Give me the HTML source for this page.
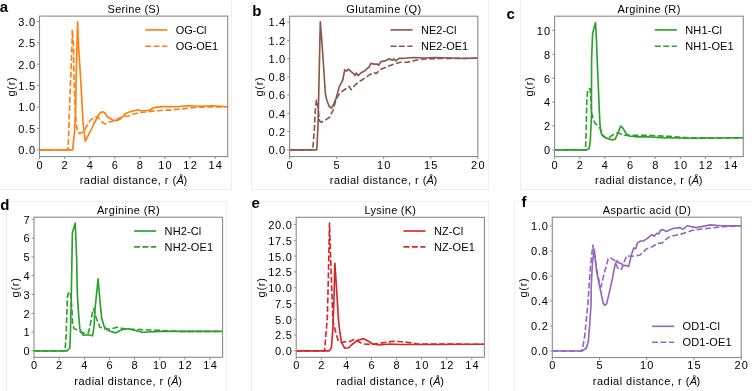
<!DOCTYPE html>
<html><head><meta charset="utf-8"><style>
html,body{margin:0;padding:0;background:#fff;width:752px;height:391px;overflow:hidden}
svg{display:block;filter:blur(0.4px)}
text{font-family:"Liberation Sans",sans-serif;fill:#000}
</style></head><body>
<svg width="752" height="391" viewBox="0 0 752 391">
<rect width="752" height="391" fill="#fff"/>
<g stroke="#efefef" stroke-width="1" fill="none">
<path d="M231.5,0 V189.5 H0"/>
<path d="M251.5,0 V189.5 H488.5 V0"/>
<path d="M520.5,0 V189.5 H752"/>
<path d="M6.5,391 V201.5 H226.5 V391"/>
<path d="M251.5,391 V201.5 H488.5 V391"/>
<path d="M514.5,391 V201.5 H752"/>
</g>
<clipPath id="ca"><rect x="39.5" y="16.1" width="188.2" height="140.5"/></clipPath>
<path d="M39.50,149.80 L68.00,149.80 L68.50,138.00 L69.30,115.00 L70.80,75.00 L72.00,45.00 L72.30,29.60 L73.50,45.00 L73.90,75.00 L75.00,105.00 L76.20,123.30 L77.30,130.30 L79.30,133.60 L82.00,132.50 L85.00,129.50 L88.10,123.30 L90.40,120.30 L93.00,118.00 L96.30,116.60 L99.90,119.20 L102.50,122.50 L105.40,124.10 L109.10,122.20 L113.80,120.70 L122.50,116.50 L128.80,116.00 L132.40,114.20 L136.90,113.30 L140.40,112.50 L145.80,112.00 L152.10,111.10 L158.30,110.70 L165.00,110.10 L170.20,110.10 L178.00,109.30 L186.60,108.40 L193.50,107.50 L203.90,107.10 L227.70,106.70" fill="none" stroke="#ff7f0e" stroke-width="1.65" stroke-linejoin="round" stroke-dasharray="5.9 2.5" clip-path="url(#ca)"/>
<path d="M39.50,149.80 L72.70,149.80 L74.70,130.00 L75.80,105.00 L76.20,75.00 L77.00,45.00 L77.60,21.90 L78.50,45.00 L80.40,75.00 L82.30,108.00 L83.10,123.30 L84.60,136.00 L85.20,141.20 L88.10,135.70 L92.00,128.00 L94.00,123.50 L97.00,118.00 L99.50,113.50 L102.20,111.80 L104.50,112.50 L107.10,116.50 L109.10,117.80 L112.70,120.10 L117.20,120.50 L120.70,118.70 L125.20,113.80 L130.60,111.60 L134.20,110.70 L137.80,109.80 L141.30,110.70 L145.80,110.70 L149.40,110.20 L153.00,108.00 L157.40,107.10 L163.70,106.60 L176.20,106.70 L188.30,105.80 L199.60,106.20 L211.70,105.80 L227.70,106.70" fill="none" stroke="#ff7f0e" stroke-width="1.65" stroke-linejoin="round" clip-path="url(#ca)"/>
<rect x="39.5" y="16.1" width="188.2" height="140.5" fill="none" stroke="#8a8a8a" stroke-width="1.1"/>
<path d="M39.50,156.60 V159.10 M64.59,156.60 V159.10 M89.69,156.60 V159.10 M114.78,156.60 V159.10 M139.87,156.60 V159.10 M164.97,156.60 V159.10 M190.06,156.60 V159.10 M215.15,156.60 V159.10 M39.50,149.80 H37.00 M39.50,128.40 H37.00 M39.50,107.00 H37.00 M39.50,85.60 H37.00 M39.50,64.20 H37.00 M39.50,42.80 H37.00 M39.50,21.40 H37.00" stroke="#8a8a8a" stroke-width="0.9" fill="none"/>
<text x="39.5" y="168.5" text-anchor="middle" font-size="11.0" textLength="6.72" lengthAdjust="spacing">0</text>
<text x="64.59" y="168.5" text-anchor="middle" font-size="11.0" textLength="6.72" lengthAdjust="spacing">2</text>
<text x="89.69" y="168.5" text-anchor="middle" font-size="11.0" textLength="6.72" lengthAdjust="spacing">4</text>
<text x="114.78" y="168.5" text-anchor="middle" font-size="11.0" textLength="6.72" lengthAdjust="spacing">6</text>
<text x="139.87" y="168.5" text-anchor="middle" font-size="11.0" textLength="6.72" lengthAdjust="spacing">8</text>
<text x="164.97" y="168.5" text-anchor="middle" font-size="11.0" textLength="13.45" lengthAdjust="spacing">10</text>
<text x="190.06" y="168.5" text-anchor="middle" font-size="11.0" textLength="13.45" lengthAdjust="spacing">12</text>
<text x="215.15" y="168.5" text-anchor="middle" font-size="11.0" textLength="13.45" lengthAdjust="spacing">14</text>
<text x="35.1" y="154.15" text-anchor="end" font-size="11.0" textLength="16.81" lengthAdjust="spacing">0.0</text>
<text x="35.1" y="132.75" text-anchor="end" font-size="11.0" textLength="16.81" lengthAdjust="spacing">0.5</text>
<text x="35.1" y="111.35" text-anchor="end" font-size="11.0" textLength="16.81" lengthAdjust="spacing">1.0</text>
<text x="35.1" y="89.95" text-anchor="end" font-size="11.0" textLength="16.81" lengthAdjust="spacing">1.5</text>
<text x="35.1" y="68.55" text-anchor="end" font-size="11.0" textLength="16.81" lengthAdjust="spacing">2.0</text>
<text x="35.1" y="47.15" text-anchor="end" font-size="11.0" textLength="16.81" lengthAdjust="spacing">2.5</text>
<text x="35.1" y="25.75" text-anchor="end" font-size="11.0" textLength="16.81" lengthAdjust="spacing">3.0</text>
<text x="133.6" y="12.8" text-anchor="middle" font-size="11.0" textLength="52.01" lengthAdjust="spacing">Serine (S)</text>
<text x="79.63" y="183.8" text-anchor="start" font-size="11.0" textLength="96.58" lengthAdjust="spacing">radial distance, r (</text>
<text x="176.51" y="183.8" text-anchor="start" font-size="11.0" textLength="7.23" lengthAdjust="spacing" font-style="italic">Å</text>
<text x="183.44" y="183.8" text-anchor="start" font-size="11.0" textLength="4.12" lengthAdjust="spacing">)</text>
<text x="0" y="0" text-anchor="middle" font-size="11.0" textLength="19.3" lengthAdjust="spacing" transform="translate(14.6,86.85) rotate(-90)">g(r)</text>
<path d="M145.26,29.90 H167.26" stroke="#ff7f0e" stroke-width="1.65" fill="none"/>
<text x="175.76" y="34.05" text-anchor="start" font-size="11.0" textLength="30.64" lengthAdjust="spacing">OG-Cl</text>
<path d="M145.26,46.20 H167.26" stroke="#ff7f0e" stroke-width="1.65" stroke-dasharray="5.9 2.5" fill="none"/>
<text x="175.76" y="50.35" text-anchor="start" font-size="11.0" textLength="42.34" lengthAdjust="spacing">OG-OE1</text>
<text x="-0.3" y="11.8" font-size="15" font-weight="bold" fill="#000">a</text>
<clipPath id="cb"><rect x="289.6" y="16.2" width="188.2" height="140.4"/></clipPath>
<path d="M289.60,149.80 L312.60,149.80 L313.00,146.50 L314.50,127.00 L315.30,110.30 L316.40,100.00 L317.50,105.00 L318.50,112.00 L319.50,121.00 L321.40,122.20 L323.70,121.00 L326.00,119.60 L329.50,117.30 L333.00,110.30 L336.10,99.20 L339.90,93.00 L343.00,90.70 L346.60,88.30 L349.20,86.40 L351.10,89.60 L355.60,84.50 L360.70,80.70 L368.30,75.60 L373.50,72.40 L376.00,73.60 L381.10,69.20 L387.50,66.60 L393.90,64.10 L400.30,62.20 L406.70,62.20 L411.00,61.50 L417.00,60.00 L425.00,59.00 L440.00,58.50 L477.80,58.20" fill="none" stroke="#8c564b" stroke-width="1.65" stroke-linejoin="round" stroke-dasharray="5.9 2.5" clip-path="url(#cb)"/>
<path d="M289.60,149.80 L316.80,149.80 L318.00,125.00 L318.70,95.00 L320.30,21.90 L322.20,45.70 L323.80,70.00 L324.60,82.30 L325.30,93.00 L326.50,99.00 L329.10,106.50 L331.40,108.00 L333.00,105.70 L336.10,98.40 L339.20,86.90 L342.80,80.00 L344.70,69.80 L346.60,71.10 L348.50,69.20 L351.10,71.70 L353.60,73.60 L354.90,75.60 L356.20,73.00 L358.10,75.60 L360.70,73.00 L364.50,71.10 L367.10,68.50 L369.00,67.30 L370.90,63.40 L374.10,64.10 L377.30,64.10 L378.60,65.30 L381.10,61.50 L385.00,60.90 L388.80,58.90 L392.60,60.20 L393.90,58.90 L395.80,60.90 L399.00,58.30 L404.10,58.30 L414.00,57.50 L425.00,58.00 L435.00,57.50 L450.00,58.00 L464.80,58.50 L477.80,58.00" fill="none" stroke="#8c564b" stroke-width="1.65" stroke-linejoin="round" clip-path="url(#cb)"/>
<rect x="289.6" y="16.2" width="188.2" height="140.4" fill="none" stroke="#8a8a8a" stroke-width="1.1"/>
<path d="M289.60,156.60 V159.10 M336.65,156.60 V159.10 M383.70,156.60 V159.10 M430.75,156.60 V159.10 M477.80,156.60 V159.10 M289.60,149.80 H287.10 M289.60,131.56 H287.10 M289.60,113.32 H287.10 M289.60,95.08 H287.10 M289.60,76.84 H287.10 M289.60,58.60 H287.10 M289.60,40.36 H287.10 M289.60,22.12 H287.10" stroke="#8a8a8a" stroke-width="0.9" fill="none"/>
<text x="289.6" y="168.5" text-anchor="middle" font-size="11.0" textLength="6.72" lengthAdjust="spacing">0</text>
<text x="336.65" y="168.5" text-anchor="middle" font-size="11.0" textLength="6.72" lengthAdjust="spacing">5</text>
<text x="383.7" y="168.5" text-anchor="middle" font-size="11.0" textLength="13.45" lengthAdjust="spacing">10</text>
<text x="430.75" y="168.5" text-anchor="middle" font-size="11.0" textLength="13.45" lengthAdjust="spacing">15</text>
<text x="477.8" y="168.5" text-anchor="middle" font-size="11.0" textLength="13.45" lengthAdjust="spacing">20</text>
<text x="285.2" y="154.15" text-anchor="end" font-size="11.0" textLength="16.81" lengthAdjust="spacing">0.0</text>
<text x="285.2" y="135.91" text-anchor="end" font-size="11.0" textLength="16.81" lengthAdjust="spacing">0.2</text>
<text x="285.2" y="117.67" text-anchor="end" font-size="11.0" textLength="16.81" lengthAdjust="spacing">0.4</text>
<text x="285.2" y="99.43" text-anchor="end" font-size="11.0" textLength="16.81" lengthAdjust="spacing">0.6</text>
<text x="285.2" y="81.19" text-anchor="end" font-size="11.0" textLength="16.81" lengthAdjust="spacing">0.8</text>
<text x="285.2" y="62.95" text-anchor="end" font-size="11.0" textLength="16.81" lengthAdjust="spacing">1.0</text>
<text x="285.2" y="44.71" text-anchor="end" font-size="11.0" textLength="16.81" lengthAdjust="spacing">1.2</text>
<text x="285.2" y="26.47" text-anchor="end" font-size="11.0" textLength="16.81" lengthAdjust="spacing">1.4</text>
<text x="383.7" y="12.9" text-anchor="middle" font-size="11.0" textLength="74.81" lengthAdjust="spacing">Glutamine (Q)</text>
<text x="329.73" y="183.8" text-anchor="start" font-size="11.0" textLength="96.58" lengthAdjust="spacing">radial distance, r (</text>
<text x="426.61" y="183.8" text-anchor="start" font-size="11.0" textLength="7.23" lengthAdjust="spacing" font-style="italic">Å</text>
<text x="433.54" y="183.8" text-anchor="start" font-size="11.0" textLength="4.12" lengthAdjust="spacing">)</text>
<text x="0" y="0" text-anchor="middle" font-size="11.0" textLength="19.3" lengthAdjust="spacing" transform="translate(263,86.9) rotate(-90)">g(r)</text>
<path d="M390.56,29.90 H412.56" stroke="#8c564b" stroke-width="1.65" fill="none"/>
<text x="421.06" y="34.05" text-anchor="start" font-size="11.0" textLength="35.44" lengthAdjust="spacing">NE2-Cl</text>
<path d="M390.56,46.20 H412.56" stroke="#8c564b" stroke-width="1.65" stroke-dasharray="5.9 2.5" fill="none"/>
<text x="421.06" y="50.35" text-anchor="start" font-size="11.0" textLength="47.14" lengthAdjust="spacing">NE2-OE1</text>
<text x="252.2" y="16" font-size="15" font-weight="bold" fill="#000">b</text>
<clipPath id="cc"><rect x="554.6" y="16.2" width="188.7" height="140.4"/></clipPath>
<path d="M554.60,149.80 L585.50,149.80 L586.20,130.00 L586.80,100.00 L587.80,89.40 L590.30,88.80 L591.60,112.70 L592.90,117.80 L594.80,122.90 L597.40,125.50 L600.00,128.00 L602.40,134.60 L604.80,137.20 L608.00,138.40 L612.80,134.80 L617.60,132.80 L620.70,134.00 L624.00,135.20 L632.00,135.20 L643.90,135.20 L657.40,135.80 L669.40,136.40 L678.90,137.00 L690.00,137.80 L743.30,137.80" fill="none" stroke="#2ca02c" stroke-width="1.65" stroke-linejoin="round" stroke-dasharray="5.9 2.5" clip-path="url(#cc)"/>
<path d="M554.60,149.90 L586.50,149.90 L589.10,148.50 L590.30,140.80 L591.40,117.80 L591.60,60.00 L592.60,33.40 L595.50,22.50 L596.40,38.00 L597.20,60.00 L599.30,110.00 L599.90,122.90 L600.50,130.00 L601.50,134.00 L603.20,136.40 L607.20,138.40 L612.00,140.00 L615.20,139.10 L617.60,134.00 L620.70,126.00 L623.10,128.40 L626.30,134.00 L628.70,136.00 L635.90,136.80 L647.90,136.80 L660.00,137.60 L689.70,138.20 L743.30,137.80" fill="none" stroke="#2ca02c" stroke-width="1.65" stroke-linejoin="round" clip-path="url(#cc)"/>
<rect x="554.6" y="16.2" width="188.7" height="140.4" fill="none" stroke="#8a8a8a" stroke-width="1.1"/>
<path d="M554.60,156.60 V159.10 M579.76,156.60 V159.10 M604.92,156.60 V159.10 M630.08,156.60 V159.10 M655.24,156.60 V159.10 M680.40,156.60 V159.10 M705.56,156.60 V159.10 M730.72,156.60 V159.10 M554.60,149.90 H552.10 M554.60,126.00 H552.10 M554.60,102.10 H552.10 M554.60,78.20 H552.10 M554.60,54.30 H552.10 M554.60,30.40 H552.10" stroke="#8a8a8a" stroke-width="0.9" fill="none"/>
<text x="554.6" y="168.5" text-anchor="middle" font-size="11.0" textLength="6.72" lengthAdjust="spacing">0</text>
<text x="579.76" y="168.5" text-anchor="middle" font-size="11.0" textLength="6.72" lengthAdjust="spacing">2</text>
<text x="604.92" y="168.5" text-anchor="middle" font-size="11.0" textLength="6.72" lengthAdjust="spacing">4</text>
<text x="630.08" y="168.5" text-anchor="middle" font-size="11.0" textLength="6.72" lengthAdjust="spacing">6</text>
<text x="655.24" y="168.5" text-anchor="middle" font-size="11.0" textLength="6.72" lengthAdjust="spacing">8</text>
<text x="680.4" y="168.5" text-anchor="middle" font-size="11.0" textLength="13.45" lengthAdjust="spacing">10</text>
<text x="705.56" y="168.5" text-anchor="middle" font-size="11.0" textLength="13.45" lengthAdjust="spacing">12</text>
<text x="730.72" y="168.5" text-anchor="middle" font-size="11.0" textLength="13.45" lengthAdjust="spacing">14</text>
<text x="550.2" y="154.25" text-anchor="end" font-size="11.0" textLength="6.72" lengthAdjust="spacing">0</text>
<text x="550.2" y="130.35" text-anchor="end" font-size="11.0" textLength="6.72" lengthAdjust="spacing">2</text>
<text x="550.2" y="106.45" text-anchor="end" font-size="11.0" textLength="6.72" lengthAdjust="spacing">4</text>
<text x="550.2" y="82.55" text-anchor="end" font-size="11.0" textLength="6.72" lengthAdjust="spacing">6</text>
<text x="550.2" y="58.65" text-anchor="end" font-size="11.0" textLength="6.72" lengthAdjust="spacing">8</text>
<text x="550.2" y="34.75" text-anchor="end" font-size="11.0" textLength="13.45" lengthAdjust="spacing">10</text>
<text x="648.95" y="12.9" text-anchor="middle" font-size="11.0" textLength="62.83" lengthAdjust="spacing">Arginine (R)</text>
<text x="594.98" y="183.8" text-anchor="start" font-size="11.0" textLength="96.58" lengthAdjust="spacing">radial distance, r (</text>
<text x="691.86" y="183.8" text-anchor="start" font-size="11.0" textLength="7.23" lengthAdjust="spacing" font-style="italic">Å</text>
<text x="698.79" y="183.8" text-anchor="start" font-size="11.0" textLength="4.12" lengthAdjust="spacing">)</text>
<text x="0" y="0" text-anchor="middle" font-size="11.0" textLength="19.3" lengthAdjust="spacing" transform="translate(533.3,86.9) rotate(-90)">g(r)</text>
<path d="M654.79,29.90 H676.79" stroke="#2ca02c" stroke-width="1.65" fill="none"/>
<text x="685.29" y="34.05" text-anchor="start" font-size="11.0" textLength="36.71" lengthAdjust="spacing">NH1-Cl</text>
<path d="M654.79,46.20 H676.79" stroke="#2ca02c" stroke-width="1.65" stroke-dasharray="5.9 2.5" fill="none"/>
<text x="685.29" y="50.35" text-anchor="start" font-size="11.0" textLength="48.41" lengthAdjust="spacing">NH1-OE1</text>
<text x="506.6" y="18.8" font-size="15" font-weight="bold" fill="#000">c</text>
<clipPath id="cd"><rect x="34" y="217.2" width="188.6" height="140.1"/></clipPath>
<path d="M34.00,350.90 L65.00,350.90 L66.20,335.00 L66.80,315.00 L67.40,297.00 L68.70,292.00 L70.30,292.30 L71.00,298.00 L72.00,310.20 L72.60,323.50 L74.10,328.70 L77.20,329.70 L80.00,331.50 L85.00,333.50 L88.50,332.80 L90.50,323.50 L92.60,311.30 L93.60,308.50 L96.30,318.30 L99.90,327.20 L105.30,329.00 L111.00,329.00 L117.00,327.20 L125.30,329.10 L140.60,329.60 L155.90,330.20 L180.00,331.40 L222.60,331.40" fill="none" stroke="#2ca02c" stroke-width="1.65" stroke-linejoin="round" stroke-dasharray="5.9 2.5" clip-path="url(#cd)"/>
<path d="M34.00,350.90 L67.00,350.90 L69.80,348.00 L70.50,330.00 L71.20,300.00 L72.40,232.80 L75.30,223.00 L76.70,260.00 L77.20,290.00 L77.70,300.00 L78.70,315.40 L79.80,328.70 L81.30,332.80 L83.40,335.30 L88.50,334.80 L92.60,335.80 L94.10,325.60 L95.10,308.20 L98.10,278.90 L99.90,300.40 L101.70,318.30 L104.40,327.20 L108.80,330.80 L115.40,332.90 L122.30,329.40 L128.30,328.70 L142.10,332.20 L160.00,331.40 L222.60,331.40" fill="none" stroke="#2ca02c" stroke-width="1.65" stroke-linejoin="round" clip-path="url(#cd)"/>
<rect x="34" y="217.2" width="188.6" height="140.1" fill="none" stroke="#8a8a8a" stroke-width="1.1"/>
<path d="M34.00,357.30 V359.80 M59.15,357.30 V359.80 M84.29,357.30 V359.80 M109.44,357.30 V359.80 M134.59,357.30 V359.80 M159.73,357.30 V359.80 M184.88,357.30 V359.80 M210.03,357.30 V359.80 M34.00,350.90 H31.50 M34.00,332.10 H31.50 M34.00,313.30 H31.50 M34.00,294.50 H31.50 M34.00,275.70 H31.50 M34.00,256.90 H31.50 M34.00,238.10 H31.50 M34.00,219.30 H31.50" stroke="#8a8a8a" stroke-width="0.9" fill="none"/>
<text x="34" y="369.2" text-anchor="middle" font-size="11.0" textLength="6.72" lengthAdjust="spacing">0</text>
<text x="59.15" y="369.2" text-anchor="middle" font-size="11.0" textLength="6.72" lengthAdjust="spacing">2</text>
<text x="84.29" y="369.2" text-anchor="middle" font-size="11.0" textLength="6.72" lengthAdjust="spacing">4</text>
<text x="109.44" y="369.2" text-anchor="middle" font-size="11.0" textLength="6.72" lengthAdjust="spacing">6</text>
<text x="134.59" y="369.2" text-anchor="middle" font-size="11.0" textLength="6.72" lengthAdjust="spacing">8</text>
<text x="159.73" y="369.2" text-anchor="middle" font-size="11.0" textLength="13.45" lengthAdjust="spacing">10</text>
<text x="184.88" y="369.2" text-anchor="middle" font-size="11.0" textLength="13.45" lengthAdjust="spacing">12</text>
<text x="210.03" y="369.2" text-anchor="middle" font-size="11.0" textLength="13.45" lengthAdjust="spacing">14</text>
<text x="29.6" y="355.25" text-anchor="end" font-size="11.0" textLength="6.72" lengthAdjust="spacing">0</text>
<text x="29.6" y="336.45" text-anchor="end" font-size="11.0" textLength="6.72" lengthAdjust="spacing">1</text>
<text x="29.6" y="317.65" text-anchor="end" font-size="11.0" textLength="6.72" lengthAdjust="spacing">2</text>
<text x="29.6" y="298.85" text-anchor="end" font-size="11.0" textLength="6.72" lengthAdjust="spacing">3</text>
<text x="29.6" y="280.05" text-anchor="end" font-size="11.0" textLength="6.72" lengthAdjust="spacing">4</text>
<text x="29.6" y="261.25" text-anchor="end" font-size="11.0" textLength="6.72" lengthAdjust="spacing">5</text>
<text x="29.6" y="242.45" text-anchor="end" font-size="11.0" textLength="6.72" lengthAdjust="spacing">6</text>
<text x="29.6" y="223.65" text-anchor="end" font-size="11.0" textLength="6.72" lengthAdjust="spacing">7</text>
<text x="128.3" y="213.9" text-anchor="middle" font-size="11.0" textLength="62.83" lengthAdjust="spacing">Arginine (R)</text>
<text x="74.33" y="384.5" text-anchor="start" font-size="11.0" textLength="96.58" lengthAdjust="spacing">radial distance, r (</text>
<text x="171.21" y="384.5" text-anchor="start" font-size="11.0" textLength="7.23" lengthAdjust="spacing" font-style="italic">Å</text>
<text x="178.14" y="384.5" text-anchor="start" font-size="11.0" textLength="4.12" lengthAdjust="spacing">)</text>
<text x="0" y="0" text-anchor="middle" font-size="11.0" textLength="19.3" lengthAdjust="spacing" transform="translate(19.2,287.75) rotate(-90)">g(r)</text>
<path d="M134.09,231.00 H156.09" stroke="#2ca02c" stroke-width="1.65" fill="none"/>
<text x="164.59" y="235.15" text-anchor="start" font-size="11.0" textLength="36.71" lengthAdjust="spacing">NH2-Cl</text>
<path d="M134.09,246.90 H156.09" stroke="#2ca02c" stroke-width="1.65" stroke-dasharray="5.9 2.5" fill="none"/>
<text x="164.59" y="251.05" text-anchor="start" font-size="11.0" textLength="48.41" lengthAdjust="spacing">NH2-OE1</text>
<text x="0.2" y="210.3" font-size="15" font-weight="bold" fill="#000">d</text>
<clipPath id="ce"><rect x="296.2" y="217.3" width="188.2" height="140"/></clipPath>
<path d="M296.20,350.90 L324.20,350.90 L324.70,348.70 L327.30,318.00 L328.30,280.00 L329.50,223.00 L331.40,280.00 L332.90,320.00 L333.90,325.00 L336.00,333.30 L338.00,340.00 L341.60,342.60 L345.00,341.80 L349.80,341.50 L354.60,339.20 L358.80,341.80 L363.10,344.00 L371.60,344.50 L382.20,342.90 L392.90,341.30 L403.50,341.80 L411.00,342.90 L417.30,344.00 L484.40,344.30" fill="none" stroke="#d62728" stroke-width="1.65" stroke-linejoin="round" stroke-dasharray="5.9 2.5" clip-path="url(#ce)"/>
<path d="M296.20,350.90 L329.30,350.90 L331.40,347.70 L332.90,328.20 L333.90,300.00 L334.90,263.30 L336.00,280.00 L338.50,320.00 L339.00,325.00 L340.10,333.30 L341.60,342.60 L344.70,348.20 L348.80,347.70 L351.40,345.00 L357.80,340.20 L363.60,338.60 L368.40,341.30 L372.70,344.00 L379.00,345.00 L389.70,344.00 L400.30,344.50 L425.00,344.50 L484.40,344.30" fill="none" stroke="#d62728" stroke-width="1.65" stroke-linejoin="round" clip-path="url(#ce)"/>
<rect x="296.2" y="217.3" width="188.2" height="140" fill="none" stroke="#8a8a8a" stroke-width="1.1"/>
<path d="M296.20,357.30 V359.80 M321.29,357.30 V359.80 M346.39,357.30 V359.80 M371.48,357.30 V359.80 M396.57,357.30 V359.80 M421.67,357.30 V359.80 M446.76,357.30 V359.80 M471.85,357.30 V359.80 M296.20,350.80 H293.70 M296.20,335.03 H293.70 M296.20,319.25 H293.70 M296.20,303.48 H293.70 M296.20,287.70 H293.70 M296.20,271.93 H293.70 M296.20,256.15 H293.70 M296.20,240.38 H293.70 M296.20,224.60 H293.70" stroke="#8a8a8a" stroke-width="0.9" fill="none"/>
<text x="296.2" y="369.2" text-anchor="middle" font-size="11.0" textLength="6.72" lengthAdjust="spacing">0</text>
<text x="321.29" y="369.2" text-anchor="middle" font-size="11.0" textLength="6.72" lengthAdjust="spacing">2</text>
<text x="346.39" y="369.2" text-anchor="middle" font-size="11.0" textLength="6.72" lengthAdjust="spacing">4</text>
<text x="371.48" y="369.2" text-anchor="middle" font-size="11.0" textLength="6.72" lengthAdjust="spacing">6</text>
<text x="396.57" y="369.2" text-anchor="middle" font-size="11.0" textLength="6.72" lengthAdjust="spacing">8</text>
<text x="421.67" y="369.2" text-anchor="middle" font-size="11.0" textLength="13.45" lengthAdjust="spacing">10</text>
<text x="446.76" y="369.2" text-anchor="middle" font-size="11.0" textLength="13.45" lengthAdjust="spacing">12</text>
<text x="471.85" y="369.2" text-anchor="middle" font-size="11.0" textLength="13.45" lengthAdjust="spacing">14</text>
<text x="291.8" y="355.15" text-anchor="end" font-size="11.0" textLength="16.81" lengthAdjust="spacing">0.0</text>
<text x="291.8" y="339.38" text-anchor="end" font-size="11.0" textLength="16.81" lengthAdjust="spacing">2.5</text>
<text x="291.8" y="323.6" text-anchor="end" font-size="11.0" textLength="16.81" lengthAdjust="spacing">5.0</text>
<text x="291.8" y="307.83" text-anchor="end" font-size="11.0" textLength="16.81" lengthAdjust="spacing">7.5</text>
<text x="291.8" y="292.05" text-anchor="end" font-size="11.0" textLength="23.53" lengthAdjust="spacing">10.0</text>
<text x="291.8" y="276.28" text-anchor="end" font-size="11.0" textLength="23.53" lengthAdjust="spacing">12.5</text>
<text x="291.8" y="260.5" text-anchor="end" font-size="11.0" textLength="23.53" lengthAdjust="spacing">15.0</text>
<text x="291.8" y="244.72" text-anchor="end" font-size="11.0" textLength="23.53" lengthAdjust="spacing">17.5</text>
<text x="291.8" y="228.95" text-anchor="end" font-size="11.0" textLength="23.53" lengthAdjust="spacing">20.0</text>
<text x="390.3" y="214" text-anchor="middle" font-size="11.0" textLength="51.36" lengthAdjust="spacing">Lysine (K)</text>
<text x="336.33" y="384.5" text-anchor="start" font-size="11.0" textLength="96.58" lengthAdjust="spacing">radial distance, r (</text>
<text x="433.21" y="384.5" text-anchor="start" font-size="11.0" textLength="7.23" lengthAdjust="spacing" font-style="italic">Å</text>
<text x="440.14" y="384.5" text-anchor="start" font-size="11.0" textLength="4.12" lengthAdjust="spacing">)</text>
<text x="0" y="0" text-anchor="middle" font-size="11.0" textLength="19.3" lengthAdjust="spacing" transform="translate(264.6,287.8) rotate(-90)">g(r)</text>
<path d="M403.51,231.00 H425.51" stroke="#d62728" stroke-width="1.65" fill="none"/>
<text x="434.01" y="235.15" text-anchor="start" font-size="11.0" textLength="29.09" lengthAdjust="spacing">NZ-Cl</text>
<path d="M403.51,246.90 H425.51" stroke="#d62728" stroke-width="1.65" stroke-dasharray="5.9 2.5" fill="none"/>
<text x="434.01" y="251.05" text-anchor="start" font-size="11.0" textLength="40.79" lengthAdjust="spacing">NZ-OE1</text>
<text x="251.5" y="208.1" font-size="15" font-weight="bold" fill="#000">e</text>
<clipPath id="cf"><rect x="552.3" y="217.2" width="188.9" height="140.3"/></clipPath>
<path d="M552.30,351.00 L581.50,351.00 L582.70,347.20 L584.60,337.00 L586.50,317.80 L587.80,305.00 L590.20,270.00 L592.80,245.20 L595.30,260.60 L597.90,276.10 L599.40,282.30 L601.00,286.90 L603.50,276.10 L605.10,270.00 L606.60,265.70 L608.10,258.50 L610.70,258.00 L611.90,258.90 L614.50,260.20 L617.00,266.60 L619.00,269.80 L621.50,269.10 L624.10,262.00 L626.60,256.00 L632.40,256.30 L640.00,255.00 L645.80,249.30 L652.20,246.70 L657.30,243.50 L662.40,242.90 L666.30,239.10 L670.00,236.50 L681.80,233.90 L692.60,230.30 L706.90,228.50 L723.10,226.70 L741.20,225.80" fill="none" stroke="#9467bd" stroke-width="1.65" stroke-linejoin="round" stroke-dasharray="5.9 2.5" clip-path="url(#cf)"/>
<path d="M552.30,351.00 L582.00,351.00 L586.50,348.00 L588.40,340.80 L589.70,324.20 L591.00,305.00 L591.30,285.00 L592.50,262.00 L594.30,249.30 L596.40,270.00 L599.40,285.30 L601.00,292.50 L603.00,302.70 L604.60,305.30 L606.60,303.80 L608.60,295.60 L610.70,286.40 L612.70,277.20 L615.10,264.60 L617.00,260.80 L619.60,263.40 L621.50,263.40 L623.40,265.90 L625.30,265.30 L628.50,266.60 L629.80,262.10 L631.10,255.70 L633.70,248.00 L635.60,248.70 L637.50,242.90 L640.70,241.00 L643.20,241.00 L646.40,239.10 L649.60,236.50 L652.20,234.60 L654.10,236.50 L656.70,233.30 L658.60,234.00 L661.20,229.50 L663.70,230.10 L666.30,231.40 L672.80,228.50 L680.00,227.60 L682.70,229.40 L687.20,225.80 L696.20,227.60 L710.50,224.90 L721.30,225.80 L741.20,225.80" fill="none" stroke="#9467bd" stroke-width="1.65" stroke-linejoin="round" clip-path="url(#cf)"/>
<rect x="552.3" y="217.2" width="188.9" height="140.3" fill="none" stroke="#8a8a8a" stroke-width="1.1"/>
<path d="M552.30,357.50 V360.00 M599.52,357.50 V360.00 M646.75,357.50 V360.00 M693.98,357.50 V360.00 M741.20,357.50 V360.00 M552.30,351.00 H549.80 M552.30,326.00 H549.80 M552.30,301.00 H549.80 M552.30,276.00 H549.80 M552.30,251.00 H549.80 M552.30,226.00 H549.80" stroke="#8a8a8a" stroke-width="0.9" fill="none"/>
<text x="552.3" y="369.4" text-anchor="middle" font-size="11.0" textLength="6.72" lengthAdjust="spacing">0</text>
<text x="599.52" y="369.4" text-anchor="middle" font-size="11.0" textLength="6.72" lengthAdjust="spacing">5</text>
<text x="646.75" y="369.4" text-anchor="middle" font-size="11.0" textLength="13.45" lengthAdjust="spacing">10</text>
<text x="693.98" y="369.4" text-anchor="middle" font-size="11.0" textLength="13.45" lengthAdjust="spacing">15</text>
<text x="741.2" y="369.4" text-anchor="middle" font-size="11.0" textLength="13.45" lengthAdjust="spacing">20</text>
<text x="547.9" y="355.35" text-anchor="end" font-size="11.0" textLength="16.81" lengthAdjust="spacing">0.0</text>
<text x="547.9" y="330.35" text-anchor="end" font-size="11.0" textLength="16.81" lengthAdjust="spacing">0.2</text>
<text x="547.9" y="305.35" text-anchor="end" font-size="11.0" textLength="16.81" lengthAdjust="spacing">0.4</text>
<text x="547.9" y="280.35" text-anchor="end" font-size="11.0" textLength="16.81" lengthAdjust="spacing">0.6</text>
<text x="547.9" y="255.35" text-anchor="end" font-size="11.0" textLength="16.81" lengthAdjust="spacing">0.8</text>
<text x="547.9" y="230.35" text-anchor="end" font-size="11.0" textLength="16.81" lengthAdjust="spacing">1.0</text>
<text x="646.75" y="213.9" text-anchor="middle" font-size="11.0" textLength="88.2" lengthAdjust="spacing">Aspartic acid (D)</text>
<text x="592.78" y="384.7" text-anchor="start" font-size="11.0" textLength="96.58" lengthAdjust="spacing">radial distance, r (</text>
<text x="689.66" y="384.7" text-anchor="start" font-size="11.0" textLength="7.23" lengthAdjust="spacing" font-style="italic">Å</text>
<text x="696.59" y="384.7" text-anchor="start" font-size="11.0" textLength="4.12" lengthAdjust="spacing">)</text>
<text x="0" y="0" text-anchor="middle" font-size="11.0" textLength="19.3" lengthAdjust="spacing" transform="translate(527.3,287.85) rotate(-90)">g(r)</text>
<path d="M652.08,326.30 H674.08" stroke="#9467bd" stroke-width="1.65" fill="none"/>
<text x="682.58" y="330.45" text-anchor="start" font-size="11.0" textLength="37.32" lengthAdjust="spacing">OD1-Cl</text>
<path d="M652.08,342.20 H674.08" stroke="#9467bd" stroke-width="1.65" stroke-dasharray="5.9 2.5" fill="none"/>
<text x="682.58" y="346.35" text-anchor="start" font-size="11.0" textLength="49.02" lengthAdjust="spacing">OD1-OE1</text>
<text x="521.5" y="206.8" font-size="15" font-weight="bold" fill="#000">f</text>
</svg>
</body></html>
